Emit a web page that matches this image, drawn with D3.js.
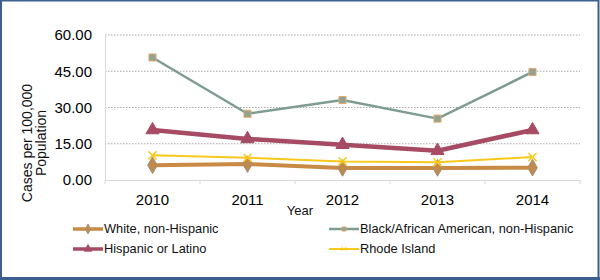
<!DOCTYPE html>
<html>
<head>
<meta charset="utf-8">
<script src="https://cdn.jsdelivr.net/npm/d3@7/dist/d3.min.js"></script>
<style>
  body { margin: 0; background: #fff; }
  svg { display: block; font-family: "Liberation Sans", Arial, sans-serif; }
</style>
</head>
<body>
<div id="chart"></div>
<script>
const years = ['2010', '2011', '2012', '2013', '2014'];
const yTicks = [0, 15, 30, 45, 60];
const seriesNames = ['White, non-Hispanic', 'Black/African American, non-Hispanic', 'Hispanic or Latino', 'Rhode Island'];
const white = [6.1, 6.6, 5.0, 5.0, 5.1];
const black = [50.7, 27.4, 33.1, 25.4, 44.7];
const hispanic = [20.7, 17.0, 14.6, 12.1, 20.7];
const rhodeIsland = [10.2, 9.2, 7.7, 7.3, 9.5];

const width = 600, height = 280;
const margin = { top: 35, right: 20, bottom: 100, left: 105 };

// style per series: line colour, width, marker
const styles = [
  { values: white, color: '#c98a45', lw: 4, sym: d3.symbolDiamond, size: 80, fill: '#c08a4c', stroke: '#a09080' },
  { values: black, color: '#7f9c90', lw: 2.5, sym: d3.symbolSquare, size: 50, fill: '#8fa394', stroke: '#e6a86a' },
  { values: hispanic, color: '#a64b63', lw: 4.5, sym: d3.symbolTriangle, size: 75, fill: '#a64b63', stroke: '#a64b63' },
  { values: rhodeIsland, color: '#f8c81c', lw: 2, sym: d3.symbolX, size: 45, fill: 'none', stroke: '#f8c81c' }
];

const svg = d3.select('#chart').append('svg')
  .attr('width', width)
  .attr('height', height);

// frame
svg.append('rect')
  .attr('x', 1).attr('y', 0.5)
  .attr('width', width - 2.5).attr('height', height - 2)
  .attr('fill', 'none')
  .attr('stroke', '#3d5f8f')
  .attr('stroke-width', 2);
svg.append('line')
  .attr('x1', 0).attr('x2', width)
  .attr('y1', height - 1.5).attr('y2', height - 1.5)
  .attr('stroke', '#3d5f8f').attr('stroke-width', 3);

const x = d3.scaleBand()
  .domain(years)
  .range([margin.left, width - margin.right]);

const y = d3.scaleLinear()
  .domain([0, 60])
  .range([height - margin.bottom, margin.top]);

// gridlines
svg.append('g')
  .selectAll('line')
  .data(yTicks.filter(d => d > 0))
  .enter().append('line')
  .attr('x1', margin.left).attr('x2', width - margin.right)
  .attr('y1', d => y(d)).attr('y2', d => y(d))
  .attr('stroke', '#a8a8a8')
  .attr('stroke-width', 1)
  .attr('stroke-dasharray', '1.5,1.5');

// y axis
const yAxis = svg.append('g')
  .attr('transform', `translate(${margin.left},0)`)
  .call(d3.axisLeft(y).tickValues(yTicks).tickFormat(d3.format('.2f')).tickSize(0).tickPadding(13));
yAxis.select('.domain').attr('stroke', '#d9d9d9');
yAxis.selectAll('text').attr('font-size', 15).attr('fill', '#000');

// x axis: labels centred in bands, ticks on band edges
const xAxis = svg.append('g')
  .attr('transform', `translate(0,${y(0)})`)
  .call(d3.axisBottom(x).tickSize(0).tickPadding(14));
xAxis.select('.domain').attr('stroke', '#d9d9d9');
xAxis.selectAll('text').attr('font-size', 15).attr('fill', '#000');

svg.append('g')
  .selectAll('line')
  .data(years.map(d => x(d)).concat([x.range()[1]]))
  .enter().append('line')
  .attr('x1', d => d).attr('x2', d => d)
  .attr('y1', y(0)).attr('y2', y(0) + 4)
  .attr('stroke', '#d9d9d9');

// axis titles
svg.append('text')
  .attr('x', 300).attr('y', 215)
  .attr('text-anchor', 'middle')
  .attr('font-size', 13)
  .attr('fill', '#111')
  .text('Year');

const yTitle = svg.append('text')
  .attr('transform', 'translate(32,143) rotate(-90)')
  .attr('text-anchor', 'middle')
  .attr('font-size', 14)
  .attr('fill', '#111');
yTitle.append('tspan').attr('x', 0).attr('dy', 0).text('Cases per 100,000');
yTitle.append('tspan').attr('x', 0).attr('dy', 14).text('Population');

// lines and markers
const line = d3.line()
  .x((d, i) => x(years[i]) + x.bandwidth() / 2)
  .y(d => y(d));

styles.forEach(s => {
  svg.append('path')
    .datum(s.values)
    .attr('d', line)
    .attr('fill', 'none')
    .attr('stroke', s.color)
    .attr('stroke-width', s.lw)
    .attr('stroke-linejoin', 'round');

  svg.append('g')
    .selectAll('path')
    .data(s.values)
    .enter().append('path')
    .attr('transform', (d, i) => `translate(${x(years[i]) + x.bandwidth() / 2},${y(d)})`)
    .attr('d', d3.symbol().type(s.sym).size(s.size))
    .attr('fill', s.fill)
    .attr('stroke', s.stroke)
    .attr('stroke-width', s.sym === d3.symbolX ? 1.5 : 1);
});

// legend
const legendPos = [[73, 229], [329, 229], [73, 249], [329, 249]];
seriesNames.forEach((name, i) => {
  const s = styles[i];
  const [lx, ly] = legendPos[i];
  const g = svg.append('g').attr('transform', `translate(${lx},${ly})`);
  g.append('line')
    .attr('x1', 0).attr('x2', 30)
    .attr('stroke', s.color)
    .attr('stroke-width', Math.min(s.lw, 3.5));
  g.append('path')
    .attr('transform', 'translate(15,0)')
    .attr('d', d3.symbol().type(s.sym).size(s.size * 0.35))
    .attr('fill', s.fill)
    .attr('stroke', s.stroke)
    .attr('stroke-width', 0.8);
  g.append('text')
    .attr('x', 31).attr('dy', '0.35em')
    .attr('font-size', 12.8)
    .attr('fill', '#111')
    .text(name);
});
</script>
</body>
</html>
